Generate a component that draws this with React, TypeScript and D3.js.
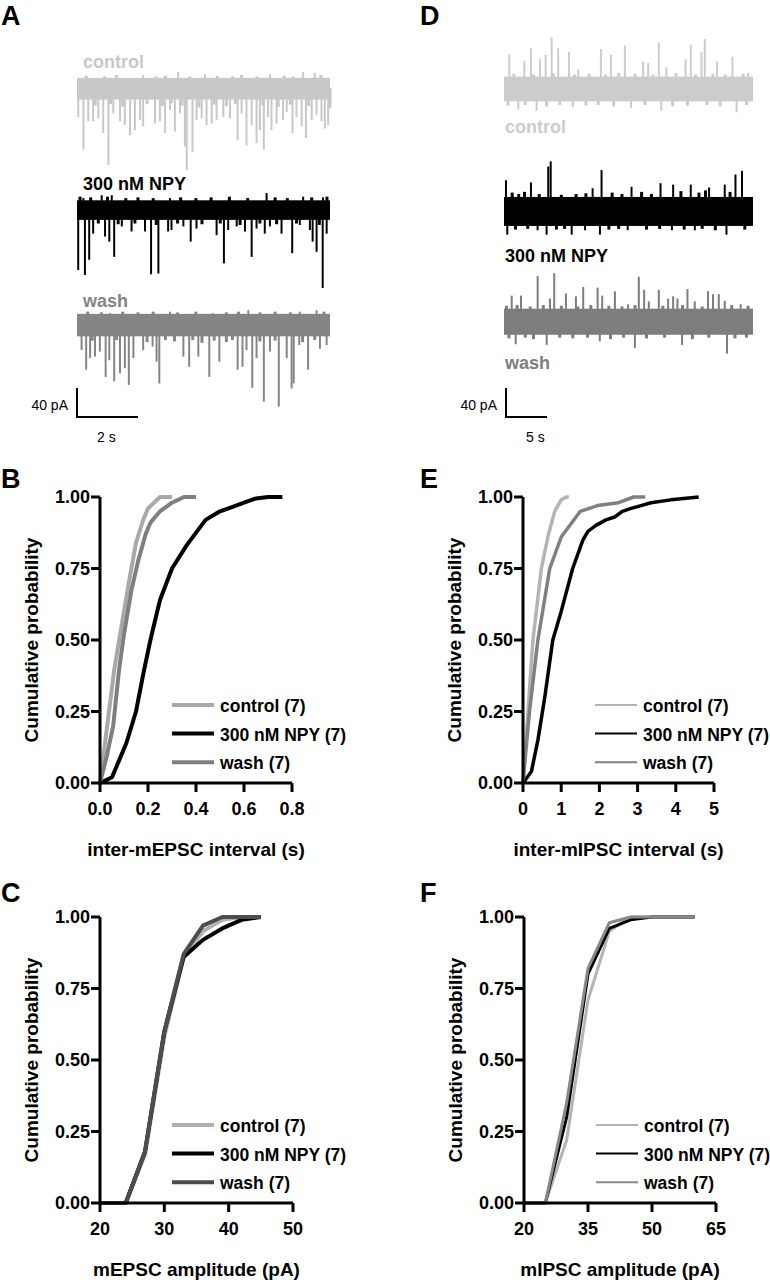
import React from 'react';
import * as d3 from 'd3';

const FONT = '"Liberation Sans", Arial, Helvetica, sans-serif';

type Pt = [number, number];

// ---------- traces (time in s, amplitude in pA) ----------
const aDuration = 8.3;
const aControlEvents: Pt[] = [
  [0.04, -40], [0.21, -85], [0.37, -46], [0.53, -46], [0.7, -42], [0.86, -62], [1.03, -106],
  [1.19, -35], [1.41, -46], [1.57, -51], [1.74, -65], [1.9, -58], [2.07, -44], [2.17, -53],
  [2.56, -49], [2.72, -46], [2.89, -62], [3.05, -30], [3.21, -60], [3.38, -35], [3.54, -81],
  [3.6, -113], [3.79, -88], [3.92, -44], [4.09, -42], [4.25, -51], [4.42, -49], [4.58, -44],
  [4.8, -40], [5.02, -42], [5.27, -72], [5.4, -35], [5.56, -79], [5.73, -51], [5.89, -76],
  [6.0, -58], [6.13, -85], [6.27, -40], [6.38, -58], [6.55, -49], [6.76, -44], [6.88, -33],
  [7.07, -62], [7.2, -40], [7.37, -53], [7.51, -69], [7.7, -44], [7.86, -37], [8.02, -46],
  [8.13, -56], [8.24, -51],
  [2.17, 18], [3.32, 22], [4.2, 19], [6.33, 19], [7.42, 22], [7.8, 21],
];
const aControlNoise: Pt[] = [
  [0.3, 17], [0.9, 16], [1.3, 18], [2.6, 16], [2.9, 17], [3.7, 16], [4.6, 17], [5.1, 16],
  [5.4, 18], [5.9, 16], [6.8, 17], [7.1, 16], [8.0, 18],
  [0.6, -24], [1.1, -22], [1.5, -26], [2.3, -22], [2.8, -25], [3.1, -21], [3.45, -24],
  [4.0, -27], [4.5, -23], [4.9, -25], [5.2, -22], [6.1, -24], [6.6, -26], [7.0, -23],
  [7.6, -25], [8.3, -28],
];
const aNpyEvents: Pt[] = [
  [0.04, -84], [0.26, -91], [0.4, -70], [0.53, -34], [0.92, -38], [1.06, -45], [1.22, -66],
  [1.47, -24], [1.79, -31], [2.23, -31], [2.43, -90], [2.67, -89], [2.99, -31], [3.1, -29],
  [3.49, -24], [3.73, -45], [3.92, -27], [4.58, -36], [4.82, -75], [4.96, -29], [5.24, -24],
  [5.51, -31], [5.73, -66], [5.89, -27], [6.16, -34], [6.33, -24], [6.71, -34], [7.06, -61],
  [7.31, -22], [7.64, -29], [7.73, -45], [7.86, -59], [8.06, -109], [8.19, -34],
  [0.21, 15], [0.81, 19], [1.14, 19], [3.05, 15], [6.22, 22], [7.42, 17], [8.07, 16],
];
const aNpyNoise: Pt[] = [
  [0.1, 17], [0.45, 16], [1.0, 17], [1.6, 15], [2.0, 16], [2.5, 15], [3.4, 16], [3.9, 15],
  [4.4, 16], [5.0, 17], [5.6, 15], [6.5, 16], [6.9, 15], [7.7, 16], [8.2, 17],
  [0.7, -20], [1.35, -21], [1.9, -20], [2.6, -22], [3.3, -20], [4.1, -21], [4.7, -20],
  [5.35, -22], [6.0, -20], [6.55, -21], [7.2, -20], [7.95, -22],
];
const aWashEvents: Pt[] = [
  [0.15, -36], [0.3, -63], [0.43, -47], [0.59, -45], [0.75, -38], [0.94, -73], [1.06, -50],
  [1.22, -79], [1.41, -68], [1.57, -61], [1.7, -84], [1.85, -47], [2.17, -36], [2.48, -31],
  [2.61, -52], [2.7, -82], [3.49, -45], [3.68, -59], [3.98, -45], [4.34, -73], [4.67, -52],
  [5.27, -63], [5.43, -59], [5.56, -36], [5.75, -88], [5.89, -47], [6.13, -107], [6.33, -38],
  [6.62, -114], [6.88, -47], [7.04, -89], [7.11, -82], [7.29, -29], [7.58, -63], [7.97, -34],
  [8.19, -29],
  [1.08, 15], [3.05, 17], [4.46, 15], [5.62, 19], [7.31, 17], [7.86, 19],
];
const aWashNoise: Pt[] = [
  [0.35, 17], [0.8, 16], [1.5, 17], [2.0, 16], [2.5, 17], [3.3, 16], [3.9, 17], [4.9, 16],
  [5.3, 17], [6.0, 16], [6.5, 17], [7.0, 16], [8.1, 17],
  [0.5, -23], [1.3, -22], [2.3, -25], [2.9, -22], [3.2, -24], [3.8, -22], [4.1, -26],
  [4.5, -23], [4.9, -25], [5.1, -22], [6.0, -24], [6.5, -23], [7.4, -25], [7.8, -22],
];

const dDuration = 30.4;
const dControlEvents: Pt[] = [
  [0.65, 48], [2.48, 39], [3.29, 56], [4.39, 41], [5.09, 47], [5.82, 71], [6.62, 56],
  [7.93, 51], [9.06, 27], [11.83, 55], [13.05, 47], [14.76, 60], [16.99, 38], [17.6, 36],
  [18.9, 64], [19.84, 30], [22.16, 41], [22.8, 61], [24.11, 51], [24.51, 69], [26.01, 38],
  [27.89, 44], [29.79, 22],
  [1.75, -28], [3.98, -30], [8.4, -25], [15.5, -26], [19.2, -30], [28.4, -32],
];
const dControlNoise: Pt[] = [
  [1.2, 21], [3.6, 20], [6.0, 22], [8.6, 20], [10.4, 21], [12.4, 20], [14.0, 22], [16.0, 21],
  [18.2, 20], [21.0, 22], [23.4, 20], [25.5, 21], [27.0, 20], [29.2, 21],
  [0.5, -23], [2.6, -22], [5.2, -24], [6.8, -22], [10.0, -23], [11.5, -22], [13.4, -24],
  [17.2, -22], [20.6, -24], [22.4, -23], [24.8, -22], [26.4, -24], [29.6, -22],
];
const dNpyEvents: Pt[] = [
  [0.24, 41], [3.29, 38], [5.4, 60], [5.7, 67], [10.82, 30], [11.91, 55], [15.57, 32],
  [19.11, 37], [20.65, 35], [22.8, 35], [25.04, 31], [26.95, 35], [28.26, 49], [29.06, 54],
  [0.4, -34], [4.1, -28], [5.2, -34], [8.26, -34], [9.9, -28], [11.71, -34], [15.1, -28],
  [20.5, -28], [23.3, -28], [27.16, -34],
];
const dNpyNoise: Pt[] = [
  [1.0, 24], [1.8, 22], [2.5, 25], [4.3, 22], [7.0, 21], [8.8, 22], [10.0, 23], [13.2, 24],
  [14.4, 22], [16.8, 25], [18.0, 22], [21.6, 26], [23.8, 24], [24.6, 27], [27.6, 25],
  [1.4, -27], [2.9, -26], [6.4, -27], [7.4, -26], [12.8, -27], [14.0, -26], [17.4, -27],
  [19.0, -26], [22.0, -27], [24.2, -26], [25.8, -28], [29.4, -27],
];
const dWashEvents: Pt[] = [
  [0.94, 35], [2.07, 35], [4.11, 62], [5.61, 31], [6.13, 66], [7.56, 38], [8.78, 34],
  [9.67, 47], [11.43, 46], [11.99, 35], [13.54, 41], [15.16, 23], [16.46, 61], [17.11, 43],
  [17.68, 27], [18.9, 43], [20.04, 31], [20.65, 34], [21.18, 31], [22.4, 44], [23.29, 27],
  [24.91, 41], [25.52, 37], [26.22, 37], [26.95, 28], [28.9, 23],
  [1.43, -32], [5.21, -33], [11.7, -28], [15.98, -37], [21.74, -33], [27.23, -45],
];
const dWashNoise: Pt[] = [
  [0.3, 21], [1.6, 22], [3.2, 20], [4.8, 22], [7.0, 21], [9.0, 20], [10.6, 22], [12.8, 21],
  [14.4, 20], [16.0, 22], [19.4, 21], [21.8, 22], [24.2, 20], [27.8, 22], [29.8, 21],
  [0.6, -24], [2.6, -23], [3.6, -25], [6.8, -23], [8.4, -24], [10.2, -23], [13.0, -25],
  [14.6, -23], [17.4, -24], [19.6, -23], [23.0, -25], [25.0, -23], [28.2, -24], [29.6, -23],
];

// noise band [low, high] in pA
const aBands: Pt[] = [[-16, 14], [-15, 12], [-17, 14]];
const dBands: Pt[] = [[-17, 17], [-22, 18], [-19, 17]];

const traceLabels = ['control', '300 nM NPY', 'wash'];
const legendLabels = ['control (7)', '300 nM NPY (7)', 'wash (7)'];
const probTicks = [0, 0.25, 0.5, 0.75, 1];

// ---------- cumulative distributions ----------
const bControl: Pt[] = [[0, 0], [0.03, 0.2], [0.06, 0.4], [0.09, 0.55], [0.12, 0.7], [0.15, 0.84], [0.18, 0.92], [0.2, 0.96], [0.25, 1], [0.3, 1]];
const bNpy: Pt[] = [[0, 0], [0.05, 0.02], [0.08, 0.08], [0.11, 0.14], [0.15, 0.25], [0.18, 0.38], [0.21, 0.5], [0.25, 0.64], [0.3, 0.75], [0.36, 0.83], [0.44, 0.92], [0.5, 0.95], [0.55, 0.965], [0.6, 0.98], [0.65, 0.995], [0.7, 1], [0.76, 1]];
const bWash: Pt[] = [[0, 0], [0.03, 0.1], [0.055, 0.2], [0.08, 0.4], [0.1, 0.52], [0.13, 0.67], [0.16, 0.78], [0.19, 0.87], [0.21, 0.91], [0.25, 0.95], [0.3, 0.98], [0.35, 1], [0.4, 1]];
const bTicks = [0, 0.2, 0.4, 0.6, 0.8];

const eControl: Pt[] = [[0, 0], [0.13, 0.25], [0.26, 0.5], [0.48, 0.75], [0.65, 0.86], [0.83, 0.95], [1.0, 0.99], [1.13, 1], [1.2, 1]];
const eNpy: Pt[] = [[0, 0], [0.22, 0.04], [0.39, 0.15], [0.57, 0.3], [0.78, 0.5], [1.0, 0.6], [1.3, 0.75], [1.57, 0.85], [1.7, 0.88], [1.9, 0.9], [2.17, 0.92], [2.4, 0.93], [2.6, 0.95], [2.83, 0.96], [3.09, 0.97], [3.35, 0.98], [3.87, 0.99], [4.6, 1]];
const eWash: Pt[] = [[0, 0], [0.17, 0.25], [0.39, 0.5], [0.7, 0.75], [1.0, 0.86], [1.5, 0.95], [1.95, 0.97], [2.5, 0.98], [2.9, 1], [3.2, 1]];
const eTicks = [0, 1, 2, 3, 4, 5];

const cControl: Pt[] = [[20, 0], [24, 0], [27, 0.17], [30, 0.58], [33, 0.86], [36, 0.95], [39, 0.99], [42, 1], [45, 1]];
const cNpy: Pt[] = [[20, 0], [24, 0], [27, 0.18], [30, 0.6], [33, 0.86], [36, 0.92], [39, 0.96], [42, 0.99], [45, 1]];
const cWash: Pt[] = [[20, 0], [24, 0], [27, 0.18], [30, 0.6], [33, 0.87], [36, 0.97], [39, 1], [45, 1]];
const cTicks = [20, 30, 40, 50];

const fControl: Pt[] = [[20, 0], [25, 0], [30, 0.22], [35, 0.71], [40, 0.95], [45, 1], [50, 1], [60, 1]];
const fNpy: Pt[] = [[20, 0], [25, 0], [30, 0.3], [35, 0.8], [40, 0.96], [45, 0.99], [50, 1], [60, 1]];
const fWash: Pt[] = [[20, 0], [25, 0], [30, 0.35], [35, 0.82], [40, 0.98], [45, 1], [50, 1], [60, 1]];
const fTicks = [20, 35, 50, 65];

function Trace({ x0, x1, base, duration, band, events, noise, color }: any) {
  const x = d3.scaleLinear().domain([0, duration]).range([x0, x1]);
  const y = d3.scaleLinear().domain([0, 40]).range([base, base - 29]);
  return (
    <g>
      <rect x={x0} width={x1 - x0} y={y(band[1])} height={y(band[0]) - y(band[1])} fill={color} />
      {noise.map(([t, a]: Pt, i: number) => (
        <line key={'n' + i} x1={x(t)} x2={x(t)} y1={y(0)} y2={y(a)} stroke={color} strokeWidth={3} />
      ))}
      {events.map(([t, a]: Pt, i: number) => (
        <line key={i} x1={x(t)} x2={x(t)} y1={y(0)} y2={y(a)} stroke={color} strokeWidth={2} />
      ))}
    </g>
  );
}

function ScaleBar({ x, top, duration, width, secs }: any) {
  const sx = d3.scaleLinear().domain([0, duration]).range([0, width]);
  const sy = d3.scaleLinear().domain([0, 40]).range([0, 29]);
  const bottom = top + sy(40);
  return (
    <g>
      <path d={`M${x},${top}V${bottom}H${x + sx(secs)}`} fill="none" stroke="#000" strokeWidth={2} />
      <text x={x - 9} y={bottom - 7} textAnchor="end" fontSize={14} fontFamily={FONT}>40 pA</text>
      <text x={x + 20} y={bottom + 25} fontSize={14} fontFamily={FONT}>{secs} s</text>
    </g>
  );
}

function CdfPanel({ left, right, top, bottom, xDomain, xTicks, fmt, xTitle, series, colors, widths, legendW }: any) {
  const x = d3.scaleLinear().domain(xDomain).range([left, right]);
  const y = d3.scaleLinear().domain([0, 1]).range([bottom, top]);
  const line = d3.line<Pt>().x(d => x(d[0])).y(d => y(d[1]));
  const legX = left + 72;
  const legY = bottom - 78;
  return (
    <g fontFamily={FONT} fontWeight="bold">
      {series.map((s: Pt[], i: number) => (
        <path key={i} d={line(s) || ''} fill="none" stroke={colors[i]} strokeWidth={widths} strokeLinejoin="round" />
      ))}
      <path d={`M${left},${top}V${bottom}H${right}`} fill="none" stroke="#000" strokeWidth={3} />
      {probTicks.map(t => (
        <g key={t}>
          <line x1={left - 9} x2={left} y1={y(t)} y2={y(t)} stroke="#000" strokeWidth={3} />
          <text x={left - 10} y={y(t)} dy="0.36em" textAnchor="end" fontSize={18}>{t.toFixed(2)}</text>
        </g>
      ))}
      {xTicks.map((t: number) => (
        <g key={t}>
          <line x1={x(t)} x2={x(t)} y1={bottom} y2={bottom + 9} stroke="#000" strokeWidth={3} />
          <text x={x(t)} y={bottom + 32} textAnchor="middle" fontSize={18}>{fmt(t)}</text>
        </g>
      ))}
      <text transform={`translate(${left - 62},${(top + bottom) / 2}) rotate(-90)`} textAnchor="middle" fontSize={19}>
        Cumulative probability
      </text>
      <text x={(left + right) / 2} y={bottom + 73} textAnchor="middle" fontSize={19}>{xTitle}</text>
      {legendLabels.map((l, i) => (
        <g key={l}>
          <line x1={legX} x2={legX + 42} y1={legY + i * 28.6} y2={legY + i * 28.6} stroke={colors[i]} strokeWidth={legendW} />
          <text x={legX + 48} y={legY + i * 28.6 + 7} fontSize={17.5}>{l}</text>
        </g>
      ))}
    </g>
  );
}

const Letter = ({ x, y, c }: any) => (
  <text x={x} y={y} fontSize={27} fontWeight="bold" fontFamily={FONT}>{c}</text>
);

const App = () => {
  const aColors = ['#c8c8c8', '#000000', '#858585'];
  const dColors = ['#cccccc', '#000000', '#7d7d7d'];
  const aEvents = [aControlEvents, aNpyEvents, aWashEvents];
  const aNoise = [aControlNoise, aNpyNoise, aWashNoise];
  const dEvents = [dControlEvents, dNpyEvents, dWashEvents];
  const dNoise = [dControlNoise, dNpyNoise, dWashNoise];
  const aBase = [88, 209, 324];
  const dBase = [89, 210, 321];
  const aLabelY = [68, 190, 307];
  const dLabelY = [133, 262, 369];
  const f1 = d3.format('.1f');
  const f0 = d3.format('d');

  return (
    <svg width={770} height={1280} style={{ position: 'absolute', left: 0, top: 0, background: '#fff' }}>
      <rect width={770} height={1280} fill="#fff" />
      <Letter x={1} y={25} c="A" />
      <Letter x={420} y={25} c="D" />
      <Letter x={1} y={488} c="B" />
      <Letter x={420} y={488} c="E" />
      <Letter x={1} y={902} c="C" />
      <Letter x={420} y={902} c="F" />

      {aEvents.map((ev, i) => (
        <g key={'a' + i}>
          <Trace x0={77} x1={330} base={aBase[i]} duration={aDuration} band={aBands[i]} events={ev} noise={aNoise[i]} color={aColors[i]} />
          <text x={83} y={aLabelY[i]} fontSize={18} fontWeight="bold" fontFamily={FONT} fill={aColors[i]}>{traceLabels[i]}</text>
        </g>
      ))}
      <ScaleBar x={77} top={388} duration={aDuration} width={253} secs={2} />

      {dEvents.map((ev, i) => (
        <g key={'d' + i}>
          <Trace x0={504} x1={753} base={dBase[i]} duration={dDuration} band={dBands[i]} events={ev} noise={dNoise[i]} color={dColors[i]} />
          <text x={505} y={dLabelY[i]} fontSize={18} fontWeight="bold" fontFamily={FONT} fill={dColors[i]}>{traceLabels[i]}</text>
        </g>
      ))}
      <ScaleBar x={506} top={388} duration={dDuration} width={249} secs={5} />

      <CdfPanel left={100} right={292} top={497} bottom={783} xDomain={[0, 0.8]} xTicks={bTicks} fmt={f1}
        xTitle="inter-mEPSC interval (s)" series={[bControl, bNpy, bWash]}
        colors={['#a9a9a9', '#000000', '#7f7f7f']} widths={4} legendW={4} />
      <CdfPanel left={523} right={714} top={497} bottom={783} xDomain={[0, 5]} xTicks={eTicks} fmt={f0}
        xTitle="inter-mIPSC interval (s)" series={[eControl, eNpy, eWash]}
        colors={['#b4b4b4', '#000000', '#808080']} widths={3.5} legendW={2} />
      <CdfPanel left={100} right={293} top={917} bottom={1203} xDomain={[20, 50]} xTicks={cTicks} fmt={f0}
        xTitle="mEPSC amplitude (pA)" series={[cControl, cNpy, cWash]}
        colors={['#b0b0b0', '#000000', '#4d4d4d']} widths={4} legendW={4} />
      <CdfPanel left={524} right={716} top={917} bottom={1203} xDomain={[20, 65]} xTicks={fTicks} fmt={f0}
        xTitle="mIPSC amplitude (pA)" series={[fControl, fNpy, fWash]}
        colors={['#b4b4b4', '#000000', '#888888']} widths={3} legendW={2} />
    </svg>
  );
};

export default App;
